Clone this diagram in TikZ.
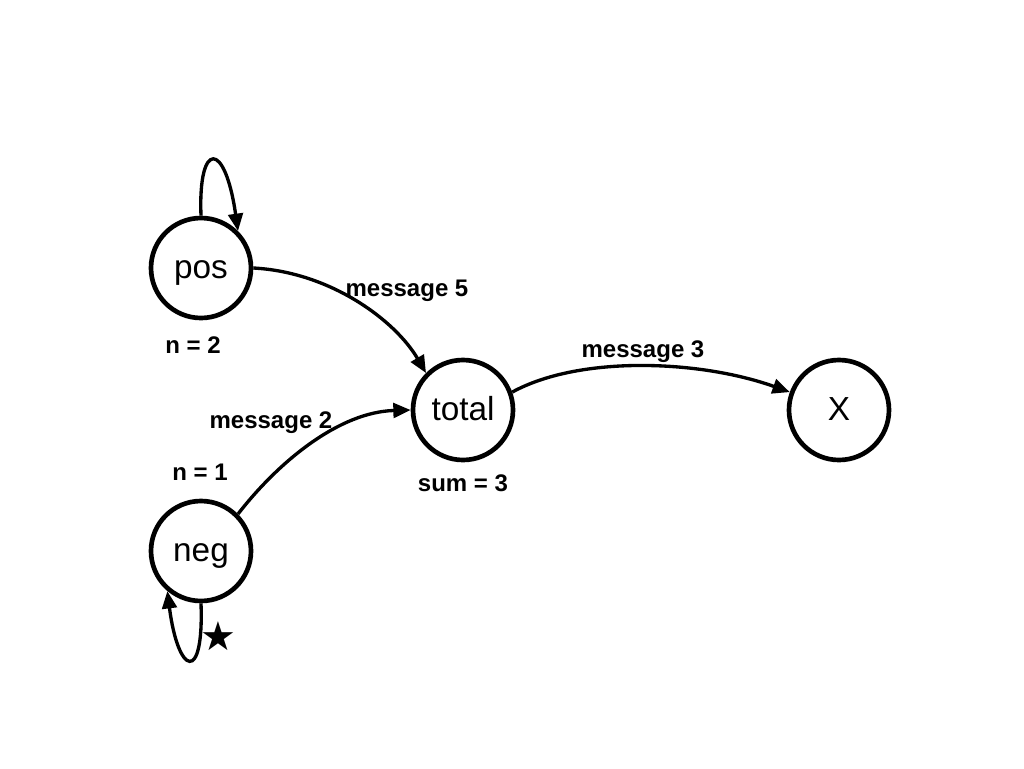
\documentclass[tikz,border=0pt]{standalone}
\usepackage{fontspec}
\setmainfont{Liberation Sans}
\newfontfamily\symfont{DejaVu Sans}
\usetikzlibrary{arrows.meta}
\begin{document}
\begin{tikzpicture}[x=0.75pt,y=-0.75pt,
  state/.style={circle,draw,line width=3.5pt,minimum size=75pt,inner sep=0pt,text height=18pt,text depth=2pt,font=\fontsize{25}{30}\selectfont},
  lbl/.style={font=\bfseries\fontsize{18}{22}\selectfont},
  edge/.style={line width=2.5pt,-{Triangle[length=13pt,width=11pt]}}]
\useasboundingbox (0,0) rectangle (1024,768);
\node[state] (pos) at (201,268) {pos};
\node[state] (neg) at (201,551) {neg};
\node[state] (total) at (463,410) {total};
\node[state] (x) at (839,410) {X};
\node[lbl] (n2) at (193,345) {n = 2};
\node[lbl] (n1) at (200,472) {n = 1};
\node[lbl] (sum) at (463,483) {sum = 3};
\node[lbl] (m5) at (407,291) {message 5};
\node[lbl] (m2) at (271,423) {message 2};
\node[lbl] (m3) at (643,352) {message 3};
\node[font=\symfont\fontsize{30}{30}\selectfont] (star) at (218,636) {★};
\draw[edge] (pos.east) .. controls (330,272) and (395,320) .. (total.north west);
\draw[edge] (neg.north east) .. controls (280,460) and (340,412) .. (total.west);
\draw[edge] (total.20) .. controls (580,355) and (700,360) .. (x.160);
\draw[edge] (pos.north) .. controls (198,140) and (225,140) .. (pos.45);
\draw[edge] (neg.south) .. controls (204,685) and (178,675) .. (neg.230);
\end{tikzpicture}
\end{document}
